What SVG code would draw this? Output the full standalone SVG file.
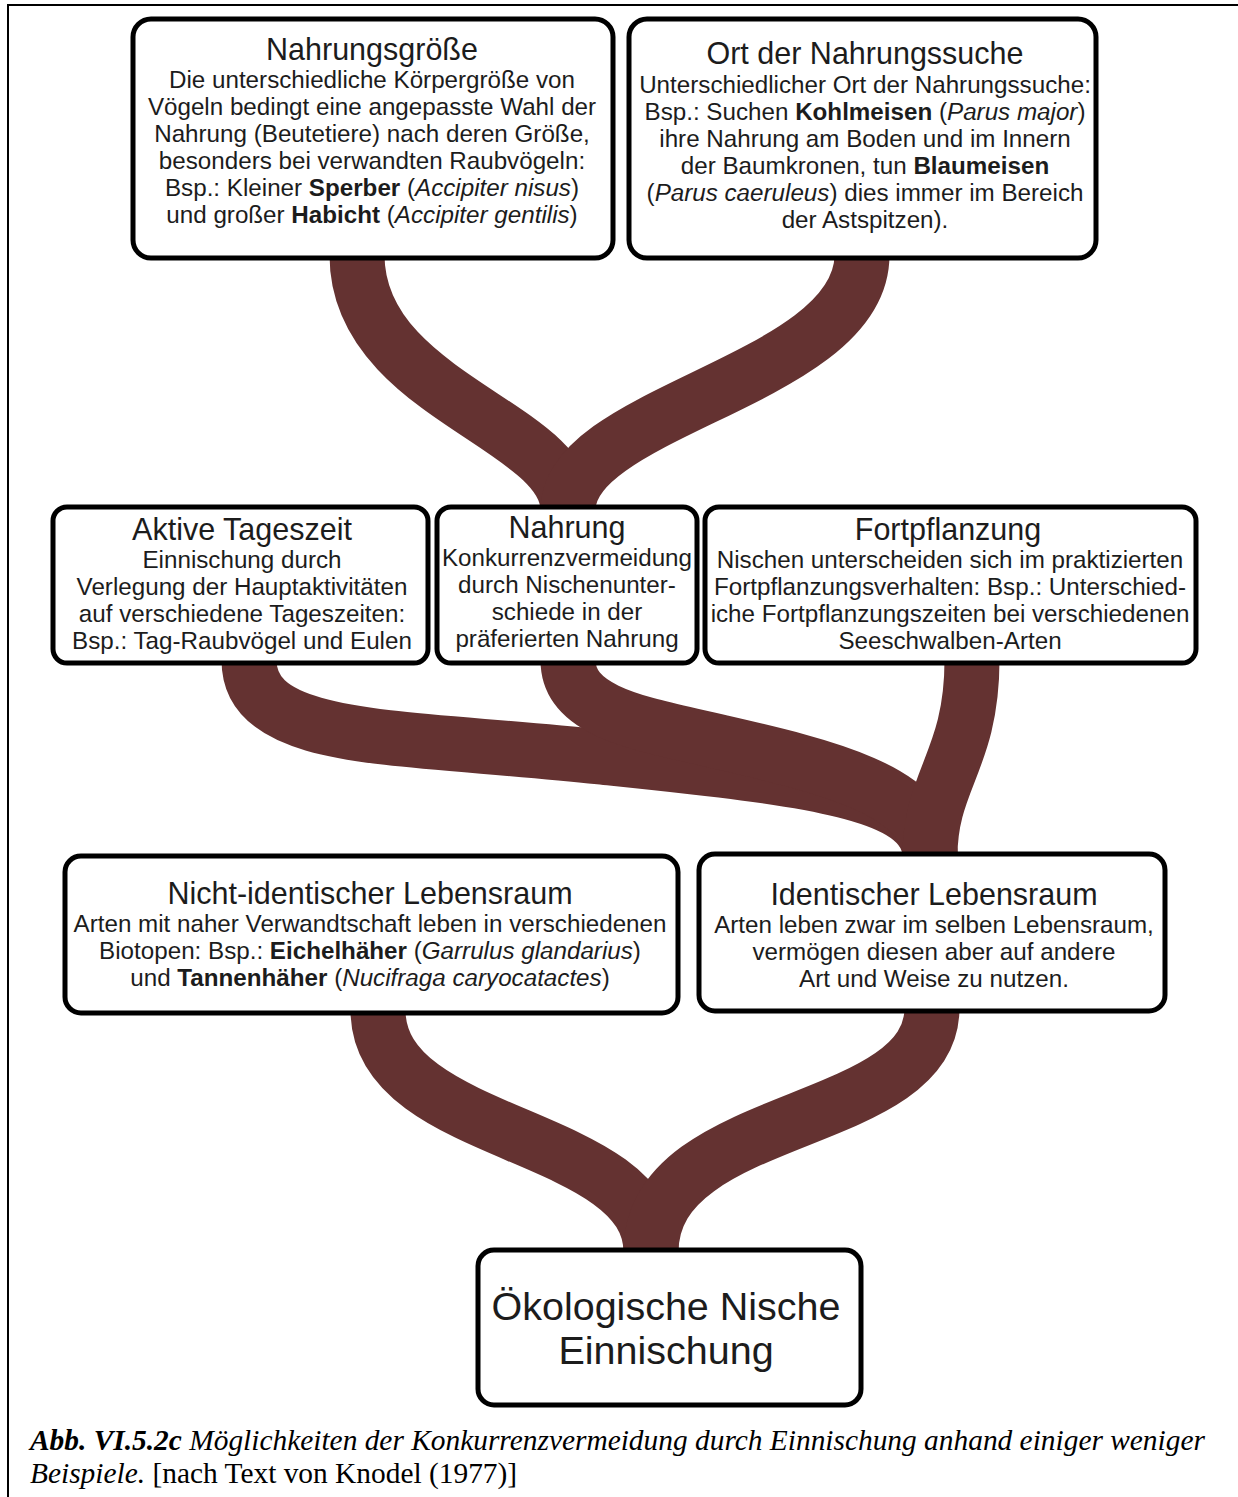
<svg xmlns="http://www.w3.org/2000/svg" width="1238" height="1497" viewBox="0 0 1238 1497">
  <style>
    .box { fill: #ffffff; stroke: #000000; stroke-width: 5; }
    .branch { fill: none; stroke: #643231; stroke-width: 55; stroke-linecap: butt; }
    .t { font-family: "Liberation Sans", Arial, sans-serif; fill: #1c1c1c; text-anchor: middle; }
    .title { font-size: 30.5px; }
    .body { font-size: 24.2px; }
    .big { font-size: 39.5px; }
    .cap { font-family: "Liberation Serif", "Times New Roman", serif; font-size: 29.4px; fill: #000000; }
    .b { font-weight: bold; }
    .i { font-style: italic; }
  </style>

  <!-- page frame -->
  <path d="M8,1497 V5 H1238" fill="none" stroke="#000" stroke-width="2"/>

  <!-- branching connectors -->
  <g id="connectors">
    <!-- top fork into "Nahrung" -->
    <path class="branch" d="M357,255 C357,395 568,425 568,510"/>
    <path class="branch" d="M862,255 C862,380 568,410 568,510"/>
    <!-- middle fork into "Identischer Lebensraum" -->
    <path class="branch" d="M249,660 C249,745 400,735 600,757 C800,778 930,790 930,856"/>
    <path class="branch" d="M568,660 C568,715 650,725 720,742 C820,765 930,790 930,856"/>
    <path class="branch" d="M972,660 C972,760 930,780 930,856"/>
    <!-- bottom fork into "Ökologische Nische" -->
    <path class="branch" d="M378,1010 C378,1140 651,1130 651,1252"/>
    <path class="branch" d="M932,1008 C932,1130 651,1110 651,1252"/>
  </g>

  <g id="nahrungsgroesse">
    <rect class="box" x="133" y="19" width="480" height="239" rx="18"/>
    <text class="t title" x="372" y="60">Nahrungsgröße</text>
    <text class="t body" x="372" y="88">Die unterschiedliche Körpergröße von</text>
    <text class="t body" x="372" y="115">Vögeln bedingt eine angepasste Wahl der</text>
    <text class="t body" x="372" y="142">Nahrung (Beutetiere) nach deren Größe,</text>
    <text class="t body" x="372" y="169">besonders bei verwandten Raubvögeln:</text>
    <text class="t body" x="372" y="196">Bsp.: Kleiner <tspan class="b">Sperber</tspan> (<tspan class="i">Accipiter nisus</tspan>)</text>
    <text class="t body" x="372" y="223">und großer <tspan class="b">Habicht</tspan> (<tspan class="i">Accipiter gentilis</tspan>)</text>
  </g>

  <g id="ort-der-nahrungssuche">
    <rect class="box" x="629" y="19" width="467" height="239" rx="18"/>
    <text class="t title" x="865" y="64">Ort der Nahrungssuche</text>
    <text class="t body" x="865" y="93">Unterschiedlicher Ort der Nahrungssuche:</text>
    <text class="t body" x="865" y="120">Bsp.: Suchen <tspan class="b">Kohlmeisen</tspan> (<tspan class="i">Parus major</tspan>)</text>
    <text class="t body" x="865" y="147">ihre Nahrung am Boden und im Innern</text>
    <text class="t body" x="865" y="174">der Baumkronen, tun <tspan class="b">Blaumeisen</tspan></text>
    <text class="t body" x="865" y="201">(<tspan class="i">Parus caeruleus</tspan>) dies immer im Bereich</text>
    <text class="t body" x="865" y="228">der Astspitzen).</text>
  </g>

  <g id="aktive-tageszeit">
    <rect class="box" x="53" y="507" width="375" height="156" rx="14"/>
    <text class="t title" x="242" y="540">Aktive Tageszeit</text>
    <text class="t body" x="242" y="568">Einnischung durch</text>
    <text class="t body" x="242" y="595">Verlegung der Hauptaktivitäten</text>
    <text class="t body" x="242" y="622">auf verschiedene Tageszeiten:</text>
    <text class="t body" x="242" y="649">Bsp.: Tag-Raubvögel und Eulen</text>
  </g>

  <g id="nahrung">
    <rect class="box" x="437" y="507" width="260" height="156" rx="14"/>
    <text class="t title" x="567" y="538">Nahrung</text>
    <text class="t body" x="567" y="566">Konkurrenzvermeidung</text>
    <text class="t body" x="567" y="593">durch Nischenunter-</text>
    <text class="t body" x="567" y="620">schiede in der</text>
    <text class="t body" x="567" y="647">präferierten Nahrung</text>
  </g>

  <g id="fortpflanzung">
    <rect class="box" x="705" y="507" width="491" height="156" rx="14"/>
    <text class="t title" x="948" y="540">Fortpflanzung</text>
    <text class="t body" x="950" y="568">Nischen unterscheiden sich im praktizierten</text>
    <text class="t body" x="950" y="595">Fortpflanzungsverhalten: Bsp.: Unterschied-</text>
    <text class="t body" x="950" y="622">iche Fortpflanzungszeiten bei verschiedenen</text>
    <text class="t body" x="950" y="649">Seeschwalben-Arten</text>
  </g>

  <g id="nicht-identischer-lebensraum">
    <rect class="box" x="65" y="856" width="613" height="157" rx="16"/>
    <text class="t title" x="370" y="904">Nicht-identischer Lebensraum</text>
    <text class="t body" x="370" y="932">Arten mit naher Verwandtschaft leben in verschiedenen</text>
    <text class="t body" x="370" y="959">Biotopen: Bsp.: <tspan class="b">Eichelhäher</tspan> (<tspan class="i">Garrulus glandarius</tspan>)</text>
    <text class="t body" x="370" y="986">und <tspan class="b">Tannenhäher</tspan> (<tspan class="i">Nucifraga caryocatactes</tspan>)</text>
  </g>

  <g id="identischer-lebensraum">
    <rect class="box" x="699" y="854" width="466" height="157" rx="16"/>
    <text class="t title" x="934" y="905">Identischer Lebensraum</text>
    <text class="t body" x="934" y="933">Arten leben zwar im selben Lebensraum,</text>
    <text class="t body" x="934" y="960">vermögen diesen aber auf andere</text>
    <text class="t body" x="934" y="987">Art und Weise zu nutzen.</text>
  </g>

  <g id="oekologische-nische">
    <rect class="box" x="478" y="1250" width="383" height="155" rx="16"/>
    <text class="t big" x="666" y="1320">Ökologische Nische</text>
    <text class="t big" x="666" y="1364">Einnischung</text>
  </g>

  <!-- figure caption -->
  <g id="caption">
    <text class="cap" x="30" y="1450"><tspan class="b i">Abb. VI.5.2c</tspan><tspan class="i"> Möglichkeiten der Konkurrenzvermeidung durch Einnischung anhand einiger weniger</tspan></text>
    <text class="cap" x="30" y="1483"><tspan class="i">Beispiele.</tspan> [nach Text von Knodel (1977)]</text>
  </g>
</svg>
